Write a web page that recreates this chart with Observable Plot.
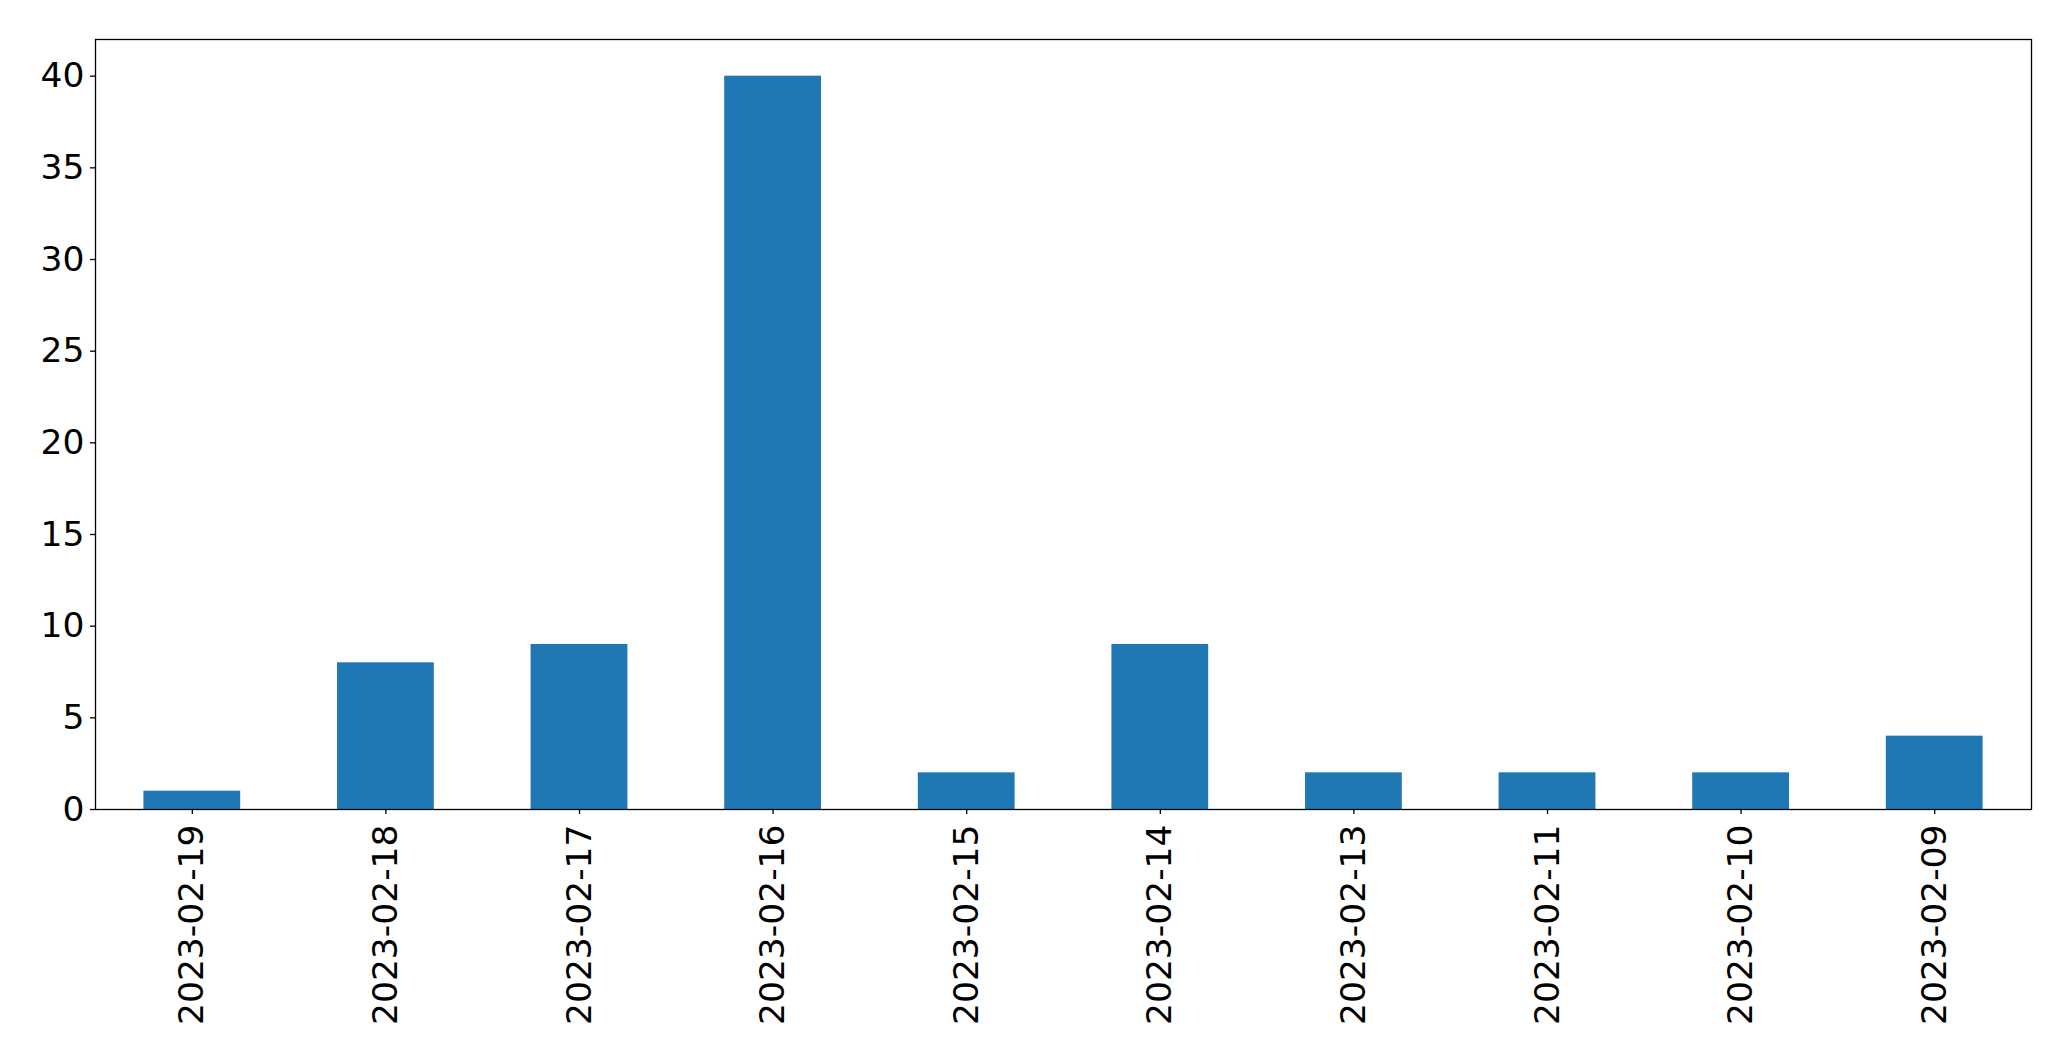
<!DOCTYPE html>
<html>
<head>
<meta charset="utf-8">
<script src="https://cdn.jsdelivr.net/npm/d3@7"></script>
<script src="https://cdn.jsdelivr.net/npm/@observablehq/plot@0.6"></script>
<style>
  html, body { margin: 0; padding: 0; background: #fff; }
  #chart svg { display: block; font-family: "DejaVu Sans", sans-serif; }
</style>
</head>
<body>
<div id="chart"></div>
<script>
const dates = ["2023-02-19", "2023-02-18", "2023-02-17", "2023-02-16", "2023-02-15",
               "2023-02-14", "2023-02-13", "2023-02-11", "2023-02-10", "2023-02-09"];
const counts = [1, 8, 9, 40, 2, 9, 2, 2, 2, 4];
const yTicks = [0, 5, 10, 15, 20, 25, 30, 35, 40];

const data = dates.map((d, i) => ({date: d, count: counts[i]}));

const chart = Plot.plot({
  width: 2071,
  height: 1061,
  marginLeft: 95,
  marginRight: 40,
  marginTop: 39,
  marginBottom: 252,
  style: {fontFamily: "DejaVu Sans, sans-serif", fontSize: "34.5px", color: "#000", background: "#fff"},
  x: {type: "band", domain: dates, paddingInner: 0.5, paddingOuter: 0.25, round: false, label: null},
  y: {domain: [0, 42], label: null},
  marks: [
    Plot.barY(data, {x: "date", y: "count", fill: "#1f77b4"}),
    Plot.axisY({ticks: yTicks, tickSize: 5, tickPadding: 6, fontSize: 34.5, label: null, stroke: "#000", strokeWidth: 1.3}),
    Plot.axisX({tickRotate: -90, tickSize: 5, tickPadding: 10, fontSize: 34.5, label: null, stroke: "#000", strokeWidth: 1.3}),
    Plot.frame({stroke: "#000", strokeWidth: 1.3})
  ]
});
document.getElementById("chart").appendChild(chart);
</script>
</body>
</html>
